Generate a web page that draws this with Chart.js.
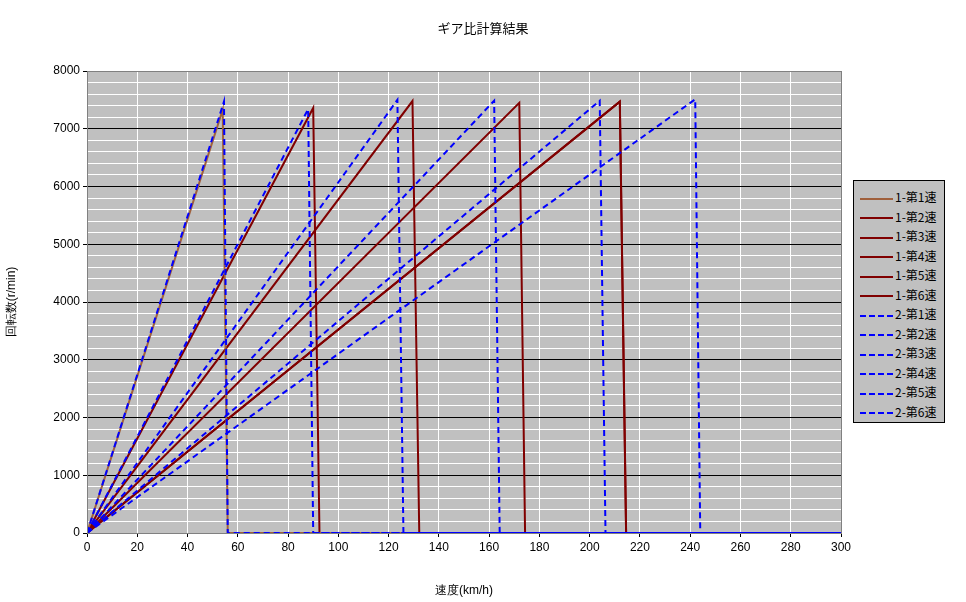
<!DOCTYPE html>
<html><head><meta charset="utf-8">
<script src="https://cdn.jsdelivr.net/npm/chart.js@4/dist/chart.umd.min.js"></script>
<style>
body{margin:0;background:#fff;font-family:"Noto Sans CJK JP",sans-serif;}
#wrap{position:relative;width:966px;height:602px;}
#legend{position:absolute;left:853px;top:180px;width:92px;height:243px;background:#c0c0c0;border:1px solid #000;box-sizing:border-box;padding:6px 0 0 6px;font-size:12px;}
#legend div{height:19.5px;line-height:19.5px;white-space:nowrap;}
#legend span.l{display:inline-block;width:33px;vertical-align:middle;margin-right:2px;}
</style></head>
<body><div id="wrap"><canvas id="c" width="966" height="602"></canvas><div id="legend"></div></div>
<script>
// 各系列: [ピーク速度, ピーク回転数, 落ち込み速度]
const names = ['1-第1速','1-第2速','1-第3速','1-第4速','1-第5速','1-第6速',
               '2-第1速','2-第2速','2-第3速','2-第4速','2-第5速','2-第6速'];
const peakSpeed = [54, 90, 129.5, 172, 212, 212, 54.5, 88, 123.5, 162, 204, 242];
const peakRpm   = [7330, 7360, 7480, 7450, 7470, 7470, 7470, 7340, 7500, 7485, 7485, 7510];
const dropSpeed = [56, 92.5, 132.2, 174.3, 214.5, 214.5, 56, 90, 125.9, 164.2, 206.3, 244];
const xTicks = [0, 300, 20];
const yTicks = [0, 8000, 200];

const colors = names.map((n, i) => i === 0 ? '#a0603c' : (i < 6 ? '#800000' : '#0000ff'));
const datasets = names.map((n, i) => ({
  label: n,
  data: [{x:0,y:0},{x:peakSpeed[i],y:peakRpm[i]},{x:dropSpeed[i],y:0},{x:300,y:0}],
  borderColor: colors[i],
  borderWidth: 2,
  borderDash: i < 6 ? [] : [6,4],
  pointRadius: 0,
  tension: 0,
  order: i < 6 ? 2 : 1
}));

const lg = document.getElementById('legend');
names.forEach((n, i) => {
  const d = document.createElement('div');
  d.innerHTML = `<span class="l" style="border-top:2px ${i<6?'solid':'dashed'} ${colors[i]}"></span>${n}`;
  lg.appendChild(d);
});

const bgPlugin = {
  id: 'bg',
  beforeDraw(chart) {
    const a = chart.chartArea, ctx = chart.ctx;
    ctx.save();
    ctx.fillStyle = '#c0c0c0';
    ctx.fillRect(a.left, a.top, a.right - a.left, a.bottom - a.top);
    ctx.restore();
  },
  afterDraw(chart) {
    const a = chart.chartArea, ctx = chart.ctx;
    ctx.save();
    ctx.strokeStyle = '#808080';
    ctx.lineWidth = 1;
    ctx.strokeRect(a.left + 0.5, a.top + 0.5, a.right - a.left, a.bottom - a.top);
    ctx.fillStyle = '#000';
    ctx.font = '13px "Noto Sans CJK JP"';
    ctx.textAlign = 'center';
    ctx.fillText('ギア比計算結果', 483, 33);
    ctx.restore();
  }
};

new Chart(document.getElementById('c'), {
  type: 'line',
  data: { datasets },
  plugins: [bgPlugin],
  options: {
    responsive: false,
    animation: false,
    layout: { padding: { top: 71, right: 125, left: 0, bottom: 0 } },
    plugins: { legend: { display: false }, tooltip: { enabled: false } },
    scales: {
      x: {
        type: 'linear', min: xTicks[0], max: xTicks[1],
        ticks: { stepSize: xTicks[2], color: '#000', font: { size: 12 }, maxRotation: 0 },
        grid: { color: '#ffffff', tickColor: '#000', tickLength: 4, lineWidth: 1 },
        border: { display: false },
        title: { display: true, text: '速度(km/h)', color: '#000', font: { size: 12 } },
        afterFit(s) { s.height = 69; }
      },
      y: {
        min: yTicks[0], max: yTicks[1],
        ticks: { stepSize: yTicks[2], autoSkip: false, color: '#000', font: { size: 12 },
          callback: v => v % 1000 === 0 ? v : '' },
        grid: {
          color: c => c.tick && c.tick.value % 1000 === 0 ? '#000000' : '#ffffff',
          tickColor: c => c.tick && c.tick.value % 1000 === 0 ? '#000' : 'rgba(0,0,0,0)',
          tickLength: 4
        },
        border: { display: false },
        title: { display: true, text: '回転数(r/min)', color: '#000', font: { size: 12 } },
        afterFit(s) { s.width = 87; }
      }
    }
  }
});
</script></body></html>
